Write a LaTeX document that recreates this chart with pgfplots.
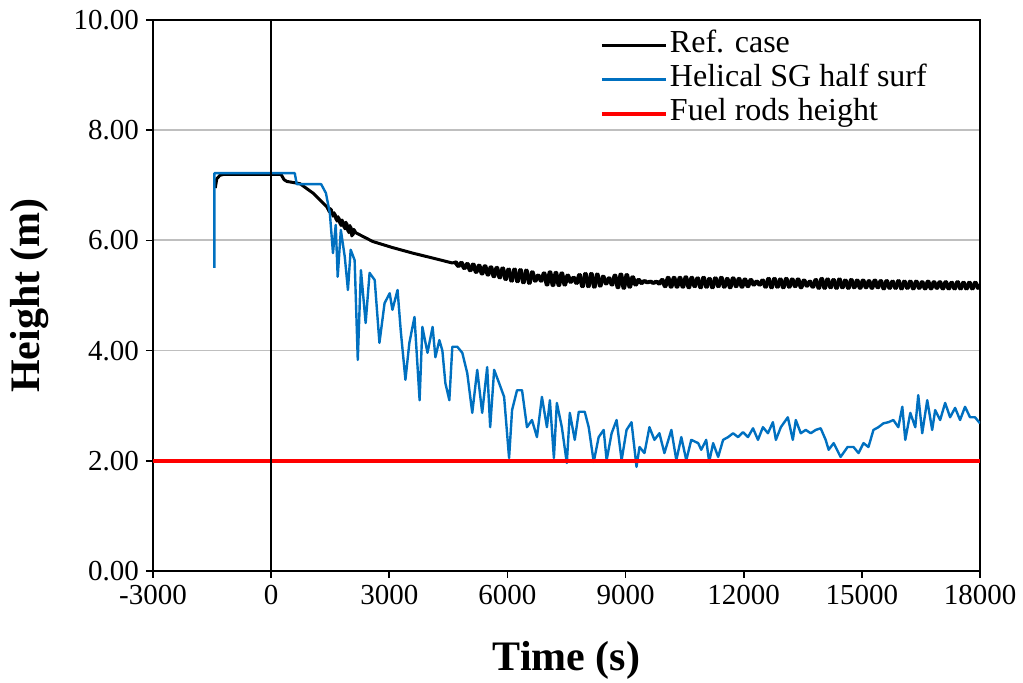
\documentclass[border=0pt]{standalone}
\usepackage{fontspec}
\setmainfont{Liberation Serif}
\usepackage{pgfplots}
\pgfplotsset{compat=1.18}
\definecolor{sgblue}{HTML}{0070C0}
\definecolor{gridgray}{HTML}{BFBFBF}
\begin{document}
\begin{tikzpicture}
\begin{axis}[
  scale only axis, width=413.5pt, height=275.5pt,
  xmin=-3000, xmax=18000, ymin=0, ymax=10,
  xtick={-3000,0,3000,6000,9000,12000,15000,18000},
  ytick={0,2,4,6,8,10},
  scaled x ticks=false,
  xtick pos=left, ytick pos=left,
  tick align=outside, major tick length=3.5pt,
  tick style={black, line width=0.8pt},
  axis line style={black, line width=1pt},
  ymajorgrids, major grid style={gridgray, line width=0.9pt},
  /pgf/number format/assume math mode=true,
  yticklabel style={/pgf/number format/fixed, /pgf/number format/fixed zerofill, /pgf/number format/precision=2},
  xticklabel style={/pgf/number format/1000 sep={}},
  ticklabel style={font=\fontsize{14.5}{17}\selectfont},
  xlabel={Time (s)}, ylabel={Height (m)},
  label style={font=\fontsize{21}{25}\selectfont\bfseries},
  xlabel style={at={(axis description cs:0.5,-0.1615)}, anchor=center},
  ylabel style={at={(axis description cs:-0.1487,0.5)}, anchor=center},
  legend style={at={(rel axis cs:0.54,0.985)}, anchor=north west, draw=none, fill=none,
    font=\fontsize{16}{19}\selectfont, inner sep=0pt, row sep=0pt,
    nodes={inner sep=1pt, text height=11pt, text depth=4pt}},
  legend cell align=left,
  legend image code/.code={\draw[#1] (0pt,0pt) -- (32pt,0pt);},
]
\coordinate (sw) at (rel axis cs:0,0);
\coordinate (ne) at (rel axis cs:1,1);
\addplot[black, line width=1.5pt, line join=round] coordinates {
(-1420,6.95) (-1380,7.12) (-1300,7.18) (-1200,7.2) (0,7.2) (250,7.2) (330,7.1) (400,7.07)
(730,7.03) (1060,6.86) (1400,6.62) (1450,6.57) (1500,6.58) (1550,6.48) (1600,6.50)
(1650,6.38) (1700,6.43) (1750,6.30) (1800,6.37) (1850,6.24) (1900,6.33) (1950,6.17)
(2000,6.27) (2050,6.08) (2100,6.2) (2150,6.14) (2200,6.12)
(2580,5.98) (3080,5.87) (3590,5.77) (4100,5.68) (4600,5.59)
(4700,5.61) (4775,5.53) (4850,5.60) (4925,5.49) (5000,5.58) (5075,5.45) (5150,5.57)
(5225,5.42) (5300,5.55) (5375,5.39) (5450,5.54) (5525,5.37) (5600,5.52) (5675,5.34)
(5750,5.51) (5825,5.32) (5900,5.50) (5975,5.29) (6050,5.48) (6125,5.26) (6200,5.48)
(6275,5.25) (6350,5.47) (6425,5.23) (6500,5.46) (6575,5.22) (6650,5.43) (6725,5.26)
(6800,5.37) (6875,5.26) (6950,5.41) (7025,5.19) (7100,5.43) (7175,5.18) (7250,5.42)
(7325,5.18) (7400,5.41) (7475,5.19) (7550,5.37) (7625,5.24) (7700,5.33) (7775,5.22)
(7850,5.38) (7925,5.16) (8000,5.40) (8075,5.16) (8150,5.40) (8225,5.15) (8300,5.39)
(8375,5.17) (8450,5.35) (8525,5.21) (8600,5.32) (8675,5.19) (8750,5.37) (8825,5.14)
(8900,5.39) (8975,5.13) (9050,5.38) (9125,5.15) (9200,5.34) (9275,5.19) (9350,5.29)
(9425,5.22) (9500,5.27) (9575,5.23) (9650,5.26) (9725,5.22) (9800,5.26) (9875,5.21)
(9950,5.29) (10025,5.16) (10100,5.33) (10175,5.15) (10250,5.33) (10325,5.15) (10400,5.33)
(10475,5.15) (10550,5.34) (10625,5.14) (10700,5.33) (10775,5.16) (10850,5.32) (10925,5.14)
(11000,5.33) (11075,5.15) (11150,5.31) (11225,5.14) (11300,5.32) (11375,5.16) (11450,5.33)
(11525,5.15) (11600,5.31) (11675,5.14) (11750,5.32) (11825,5.16) (11900,5.31) (11975,5.15)
(12050,5.30) (12125,5.16) (12200,5.29) (12275,5.19) (12350,5.26) (12425,5.19) (12500,5.28)
(12575,5.15) (12650,5.31) (12725,5.14) (12800,5.31) (12875,5.15) (12950,5.30) (13025,5.14)
(13100,5.31) (13175,5.15) (13250,5.30) (13325,5.16) (13400,5.30) (13475,5.14) (13550,5.28)
(13625,5.17) (13700,5.26) (13775,5.15) (13850,5.29) (13925,5.13) (14000,5.31) (14075,5.13)
(14150,5.30) (14225,5.14) (14300,5.29) (14375,5.13) (14450,5.30) (14525,5.14) (14600,5.28)
(14675,5.13) (14750,5.29) (14825,5.14) (14900,5.28) (14975,5.13) (15050,5.28) (15125,5.14)
(15200,5.27) (15275,5.13) (15350,5.28) (15425,5.14) (15500,5.27) (15575,5.12) (15650,5.27)
(15725,5.13) (15800,5.26) (15875,5.13) (15950,5.27) (16025,5.12) (16100,5.26) (16175,5.13)
(16250,5.26) (16325,5.12) (16400,5.26) (16475,5.13) (16550,5.25) (16625,5.12) (16700,5.26)
(16775,5.12) (16850,5.25) (16925,5.13) (17000,5.25) (17075,5.12) (17150,5.25) (17225,5.12)
(17300,5.24) (17375,5.12) (17450,5.25) (17525,5.12) (17600,5.24) (17675,5.12) (17750,5.24)
(17825,5.12) (17900,5.24) (17975,5.13) (18000,5.18)
};
\addlegendentry{Ref. case}
\addplot[black, line width=1.5pt, line join=round, forget plot] coordinates {
(1425,6.6) (1475,6.52) (1525,6.56) (1575,6.44) (1625,6.47) (1675,6.35) (1725,6.40)
(1775,6.27) (1825,6.34) (1875,6.21) (1925,6.30) (1975,6.14) (2025,6.24) (2075,6.10) (2125,6.17)
};
\addplot[black, line width=1.5pt, line join=round, forget plot] coordinates {
(4662,5.60) (4737,5.53) (4812,5.60) (4887,5.49) (4962,5.58) (5037,5.45) (5112,5.57)
(5187,5.42) (5262,5.55) (5337,5.39) (5412,5.54) (5487,5.37) (5562,5.52) (5637,5.34)
(5712,5.51) (5787,5.32) (5862,5.50) (5937,5.29) (6012,5.48) (6087,5.26) (6162,5.48)
(6237,5.25) (6312,5.47) (6387,5.23) (6462,5.46) (6537,5.22) (6612,5.43) (6687,5.26)
(6762,5.37) (6837,5.26) (6912,5.41) (6987,5.19) (7062,5.43) (7137,5.18) (7212,5.42)
(7287,5.18) (7362,5.41) (7437,5.19) (7512,5.37) (7587,5.24) (7662,5.33) (7737,5.22)
(7812,5.38) (7887,5.16) (7962,5.40) (8037,5.16) (8112,5.40) (8187,5.15) (8262,5.39)
(8337,5.17) (8412,5.35) (8487,5.21) (8562,5.32) (8637,5.19) (8712,5.37) (8787,5.14)
(8862,5.39) (8937,5.13) (9012,5.38) (9087,5.15) (9162,5.34) (9237,5.19) (9312,5.29)
(9387,5.22) (9462,5.27) (9537,5.23) (9612,5.26) (9687,5.22) (9762,5.26) (9837,5.21)
(9912,5.29) (9987,5.16) (10062,5.33) (10137,5.15) (10212,5.33) (10287,5.15) (10362,5.33)
(10437,5.15) (10512,5.34) (10587,5.14) (10662,5.33) (10737,5.16) (10812,5.32) (10887,5.14)
(10962,5.33) (11037,5.15) (11112,5.31) (11187,5.14) (11262,5.32) (11337,5.16) (11412,5.33)
(11487,5.15) (11562,5.31) (11637,5.14) (11712,5.32) (11787,5.16) (11862,5.31) (11937,5.15)
(12012,5.30) (12087,5.16) (12162,5.29) (12237,5.19) (12312,5.26) (12387,5.19) (12462,5.28)
(12537,5.15) (12612,5.31) (12687,5.14) (12762,5.31) (12837,5.15) (12912,5.30) (12987,5.14)
(13062,5.31) (13137,5.15) (13212,5.30) (13287,5.16) (13362,5.30) (13437,5.14) (13512,5.28)
(13587,5.17) (13662,5.26) (13737,5.15) (13812,5.29) (13887,5.13) (13962,5.31) (14037,5.13)
(14112,5.30) (14187,5.14) (14262,5.29) (14337,5.13) (14412,5.30) (14487,5.14) (14562,5.28)
(14637,5.13) (14712,5.29) (14787,5.14) (14862,5.28) (14937,5.13) (15012,5.28) (15087,5.14)
(15162,5.27) (15237,5.13) (15312,5.28) (15387,5.14) (15462,5.27) (15537,5.12) (15612,5.27)
(15687,5.13) (15762,5.26) (15837,5.13) (15912,5.27) (15987,5.12) (16062,5.26) (16137,5.13)
(16212,5.26) (16287,5.12) (16362,5.26) (16437,5.13) (16512,5.25) (16587,5.12) (16662,5.26)
(16737,5.12) (16812,5.25) (16887,5.13) (16962,5.25) (17037,5.12) (17112,5.25) (17187,5.12)
(17262,5.24) (17337,5.12) (17412,5.25) (17487,5.12) (17562,5.24) (17637,5.12) (17712,5.24)
(17787,5.12) (17862,5.24) (17937,5.13) (17990,5.2)
};
\addplot[sgblue, line width=1.2pt, line join=round] coordinates {
(-1440,5.5) (-1440,7.22) (600,7.22) (650,7.02) (1270,7.02) (1390,6.86) (1490,6.5)
(1570,5.77) (1640,6.28) (1690,5.34) (1770,6.19) (1870,5.7) (1950,5.1) (2020,5.83)
(2120,5.64) (2200,3.83) (2280,5.46) (2400,4.5) (2500,5.41) (2630,5.28) (2750,4.14)
(2880,4.86) (3010,5.04) (3080,4.74) (3210,5.1) (3290,4.37) (3410,3.47) (3510,4.14)
(3640,4.61) (3770,3.1) (3840,4.43) (3970,3.96) (4100,4.43) (4171,3.88) (4272,4.19)
(4348,4.0) (4424,3.41) (4525,3.1) (4601,4.07) (4727,4.07) (4854,3.96) (4980,3.59)
(5107,2.87) (5233,3.65) (5359,2.87) (5486,3.7) (5562,2.61) (5663,3.65) (5789,3.41)
(5916,3.16) (6042,2.05) (6118,2.92) (6244,3.28) (6371,3.28) (6497,2.61) (6623,2.74)
(6750,2.43) (6876,3.16) (7003,2.61) (7078,3.1) (7180,2.05) (7255,3.05) (7382,2.61)
(7508,1.96) (7584,2.87) (7710,2.38) (7812,2.89) (7963,2.89) (8064,2.61) (8191,1.98)
(8317,2.43) (8444,2.56) (8519,2.01) (8646,2.5) (8772,2.74) (8899,2.01) (9025,2.56)
(9151,2.7) (9278,1.89) (9354,2.25) (9480,2.14) (9606,2.61) (9733,2.38) (9859,2.5)
(9986,2.14) (10163,2.56) (10289,2.01) (10415,2.43) (10542,2.01) (10668,2.38) (10845,2.32)
(10921,2.2) (11047,2.38) (11123,1.98) (11224,2.32) (11351,2.07) (11477,2.38) (11604,2.43)
(11730,2.5) (11856,2.43) (11983,2.52) (12109,2.43) (12236,2.59) (12362,2.38) (12488,2.61)
(12615,2.5) (12741,2.7) (12817,2.38) (12943,2.61) (13120,2.79) (13247,2.38) (13323,2.74)
(13449,2.5) (13575,2.56) (13702,2.5) (13828,2.56) (13955,2.59) (14081,2.38) (14157,2.2)
(14284,2.32) (14461,2.07) (14637,2.25) (14789,2.25) (14915,2.14) (15042,2.32) (15168,2.25)
(15294,2.56) (15421,2.61) (15547,2.68) (15674,2.7) (15800,2.74) (15926,2.61) (16027,2.98)
(16103,2.38) (16230,2.87) (16356,2.61) (16432,3.19) (16533,2.5) (16660,3.1) (16786,2.56)
(16862,2.92) (16988,2.74) (17115,3.05) (17241,2.79) (17368,2.96) (17494,2.74) (17620,2.98)
(17747,2.79) (17873,2.79) (18000,2.68)
};
\addlegendentry{Helical SG half surf}
\addplot[red, line width=2pt] coordinates {(-3000,2) (18000,2)};
\addlegendentry{Fuel rods height}
\addplot[black, line width=1pt, forget plot] coordinates {(0,0) (0,10)};
\end{axis}
\pgfresetboundingbox
\path[use as bounding box] ([shift={(-76.5pt,-56pt)}]sw) rectangle ([shift={(21.5pt,10pt)}]ne);
\end{tikzpicture}
\end{document}
